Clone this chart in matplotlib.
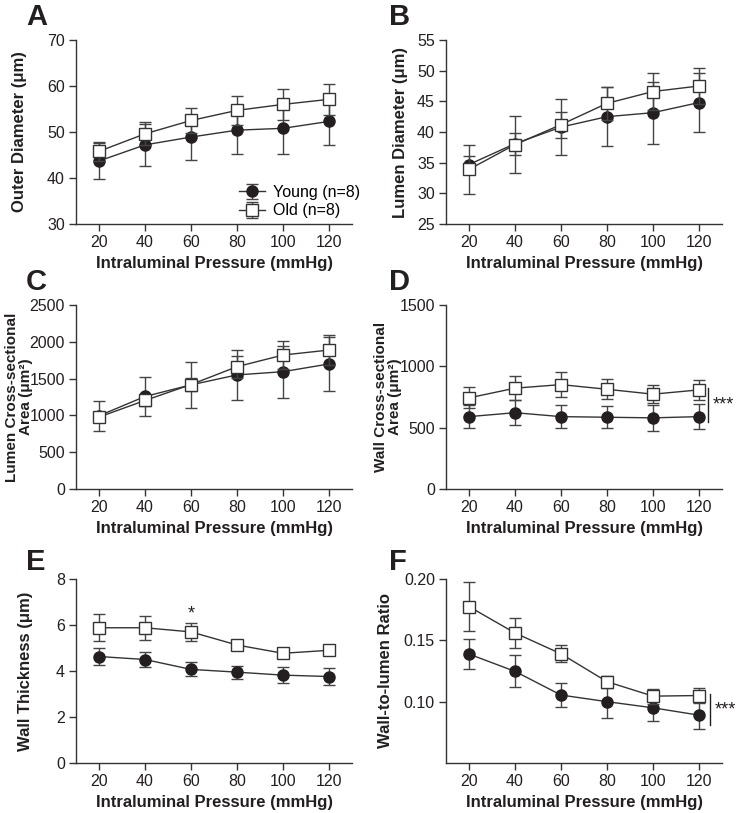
import numpy as np
import matplotlib
matplotlib.use("Agg")
import matplotlib.pyplot as plt

plt.rcParams["font.family"] = ["Liberation Sans", "DejaVu Sans"]

pressure = [20, 40, 60, 80, 100, 120]

# panel data: (young mean, young sem, old mean, old sem)
outer_young = [43.7, 47.2, 48.9, 50.4, 50.8, 52.3]
outer_young_err = [4.0, 4.6, 4.9, 5.1, 5.5, 5.2]
outer_old = [45.8, 49.6, 52.5, 54.7, 56.0, 57.1]
outer_old_err = [2.0, 2.5, 2.7, 3.1, 3.3, 3.3]

lumen_young = [34.7, 38.1, 40.8, 42.5, 43.15, 44.8]
lumen_young_err = [1.4, 1.8, 4.6, 4.8, 5.05, 4.8]
lumen_old = [33.9, 37.95, 41.2, 44.67, 46.6, 47.5]
lumen_old_err = [4.0, 4.6, 2.1, 2.7, 3.0, 2.9]

lcsa_young = [995, 1257, 1415, 1550, 1594, 1699]
lcsa_young_err = [205, 265, 310, 340, 355, 361]
lcsa_old = [977, 1203, 1419, 1662, 1820, 1888]
lcsa_old_err = [60, 80, 90, 150, 195, 207]

wcsa_young = [590, 622, 590, 585, 580, 590]
wcsa_young_err = [95, 100, 95, 90, 105, 100]
wcsa_old = [743, 822, 851, 813, 773, 808]
wcsa_old_err = [85, 100, 100, 80, 75, 80]

wt_young = [4.63, 4.5, 4.07, 3.95, 3.82, 3.76]
wt_young_err = [0.35, 0.33, 0.3, 0.28, 0.35, 0.35]
wt_old = [5.88, 5.88, 5.7, 5.13, 4.77, 4.9]
wt_old_err = [0.58, 0.53, 0.4, 0.2, 0.15, 0.15]

wl_young = [0.1388, 0.1247, 0.1054, 0.1, 0.095, 0.089]
wl_young_err = [0.012, 0.013, 0.01, 0.013, 0.011, 0.011]
wl_old = [0.1775, 0.156, 0.139, 0.1163, 0.1045, 0.105]
wl_old_err = [0.02, 0.012, 0.007, 0.005, 0.006, 0.006]

panels = [
    ("A", "Outer Diameter (μm)", outer_young, outer_young_err, outer_old, outer_old_err,
     (30, 70), [30, 40, 50, 60, 70], -0.178),
    ("B", "Lumen Diameter (μm)", lumen_young, lumen_young_err, lumen_old, lumen_old_err,
     (25, 55), [25, 30, 35, 40, 45, 50, 55], -0.138),
    ("C", "Lumen Cross-sectional\nArea (μm²)", lcsa_young, lcsa_young_err, lcsa_old, lcsa_old_err,
     (0, 2500), [0, 500, 1000, 1500, 2000, 2500], -0.157),
    ("D", "Wall Cross-sectional\nArea (μm²)", wcsa_young, wcsa_young_err, wcsa_old, wcsa_old_err,
     (0, 1500), [0, 500, 1000, 1500], -0.16),
    ("E", "Wall Thickness (μm)", wt_young, wt_young_err, wt_old, wt_old_err,
     (0, 8), [0, 2, 4, 6, 8], -0.156),
    ("F", "Wall-to-lumen Ratio", wl_young, wl_young_err, wl_old, wl_old_err,
     (0.05, 0.20), [0.10, 0.15, 0.20], -0.192),
]

INK = "#231f20"
fig = plt.figure(figsize=(7.4, 8.13), dpi=100)

lefts = [76 / 740, 446 / 740]
bottoms = [1 - 224 / 813, 1 - 489 / 813, 1 - 763 / 813]
W, H = 276 / 740, 184 / 813
letter_y = [1 - 25 / 813, 1 - 290 / 813, 1 - 570 / 813]
letter_x = [26 / 740, 389 / 740]

axes = []
for i, (letter, ylab, yv, ye, ov, oe, ylim, yticks, lx) in enumerate(panels):
    r, c = divmod(i, 2)
    ax = fig.add_axes([lefts[c], bottoms[r], W, H])
    axes.append(ax)
    ax.errorbar(pressure, yv, yerr=ye, fmt="-o", color="#333333", ecolor="#444444",
                elinewidth=1.0, capsize=4.5, capthick=1.0, lw=1.0,
                mfc=INK, mec=INK, ms=8, zorder=2, label="Young (n=8)")
    ax.errorbar(pressure, ov, yerr=oe, fmt="-s", color="#333333", ecolor="#444444",
                elinewidth=1.0, capsize=4.5, capthick=1.0, lw=1.0,
                mfc="white", mec="#333333", mew=1.0, ms=8.5, zorder=3, label="Old (n=8)")
    ax.set_xlim(10, 130)
    ax.set_ylim(*ylim)
    ax.set_xticks(pressure)
    ax.set_yticks(yticks)
    if letter == "F":
        ax.set_yticklabels([f"{t:.2f}" for t in yticks])
    for s in ["top", "right"]:
        ax.spines[s].set_visible(False)
    for s in ["left", "bottom"]:
        ax.spines[s].set_color("#333333")
        ax.spines[s].set_linewidth(1.0)
    ax.tick_params(direction="out", length=5, width=1.0, color="#333333",
                   labelsize=11.5, labelcolor=INK, pad=3)
    two_line = "\n" in ylab
    ax.set_ylabel(ylab, fontsize=11 if two_line else 12, fontweight="bold",
                  color=INK, linespacing=1.0)
    ax.yaxis.set_label_coords(lx, 0.5)
    ax.set_xlabel("Intraluminal Pressure (mmHg)", fontsize=12, fontweight="bold", color=INK)
    ax.xaxis.set_label_coords(0.5, -0.175)
    fig.text(letter_x[c], letter_y[r], letter, fontsize=21, fontweight="bold",
             color=INK, va="baseline")

axes[0].legend(loc="lower right", bbox_to_anchor=(1.08, -0.047), frameon=False,
               fontsize=11.5, handlelength=1.6, handletextpad=0.5, labelspacing=0.2)

# significance marks
axes[3].plot([124, 124], [543, 827], color=INK, lw=1.0, clip_on=False)
axes[3].text(126, 681, "***", fontsize=13, color=INK,
             va="center", ha="left", clip_on=False)
axes[5].plot([124.8, 124.8], [0.081, 0.106], color=INK, lw=1.0, clip_on=False)
axes[5].text(126.8, 0.093, "***", fontsize=13, color=INK,
             va="center", ha="left", clip_on=False)
axes[4].text(60, 6.1, "*", fontsize=13, color=INK,
             va="bottom", ha="center")

fig.savefig("out.png", dpi=100)
